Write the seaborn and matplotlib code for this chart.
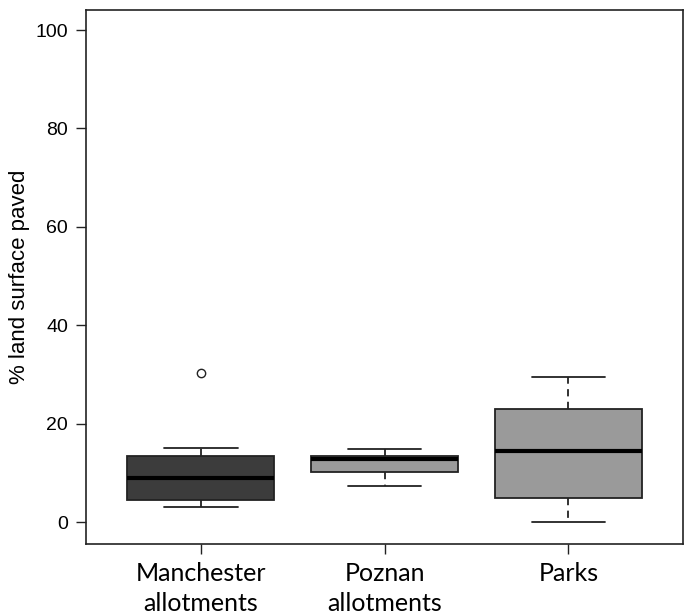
import matplotlib
matplotlib.use("Agg")
import matplotlib.pyplot as plt
import seaborn as sns
import pandas as pd

categories = ["Manchester\nallotments", "Poznan\nallotments", "Parks"]
manchester = [3.1, 3.8, 4.5, 6.5, 9.1, 11.5, 13.4, 15.2, 30.3]
poznan = [7.3, 10.3, 12.8, 13.4, 14.8]
parks = [0.0, 4.9, 14.4, 23.1, 29.6]
box_colors = ["#3c3c3c", "#9a9a9a", "#9a9a9a"]
y_ticks = [0, 20, 40, 60, 80, 100]
y_label = "% land surface paved"

df = pd.DataFrame({
    "group": [categories[0]] * len(manchester) + [categories[1]] * len(poznan) + [categories[2]] * len(parks),
    "value": manchester + poznan + parks,
})

sns.set_style("white")
sans = ["Liberation Sans", "DejaVu Sans"]
plt.rcParams["font.family"] = sans

fig = plt.figure(figsize=(6.88, 6.15), dpi=100)
ax = fig.add_axes([0.125, 0.1154, 0.868, 0.8686])

sns.boxplot(
    data=df, x="group", y="value", order=categories, hue="group", hue_order=categories,
    palette=box_colors, legend=False, width=0.8, whis=1.5, ax=ax,
    linewidth=1.3, linecolor="#222222",
    medianprops=dict(color="black", linewidth=3),
    whiskerprops=dict(color="#222222", linewidth=1.3, linestyle=(0, (4, 3))),
    capprops=dict(color="#222222", linewidth=1.3),
    capwidths=0.4,
    flierprops=dict(marker="o", markersize=6, markerfacecolor="white",
                    markeredgecolor="#222222", markeredgewidth=1.0),
)

ax.set_xlim(0.375 - 1, 3.625 - 1)
ax.set_ylim(-4.4, 104.1)
ax.set_yticks(y_ticks)
ax.set_yticklabels([str(t) for t in y_ticks], fontsize=14, family=sans, color="black")
ax.set_xticks(range(len(categories)))
ax.set_xticklabels(categories, fontsize=18, family=["Lato", "DejaVu Sans"], linespacing=1.35,
                   color="black")
ax.set_xlabel("")
ax.set_ylabel(y_label, fontsize=16, labelpad=4, family=sans, color="black")
ax.tick_params(axis="both", direction="out", length=7, width=1.0, color="#222222",
               bottom=True, left=True, pad=6)
ax.tick_params(axis="x", pad=6)
for s in ax.spines.values():
    s.set_visible(True)
    s.set_color("#222222")
    s.set_linewidth(1.2)

fig.savefig("out.png", dpi=100, facecolor="white")
